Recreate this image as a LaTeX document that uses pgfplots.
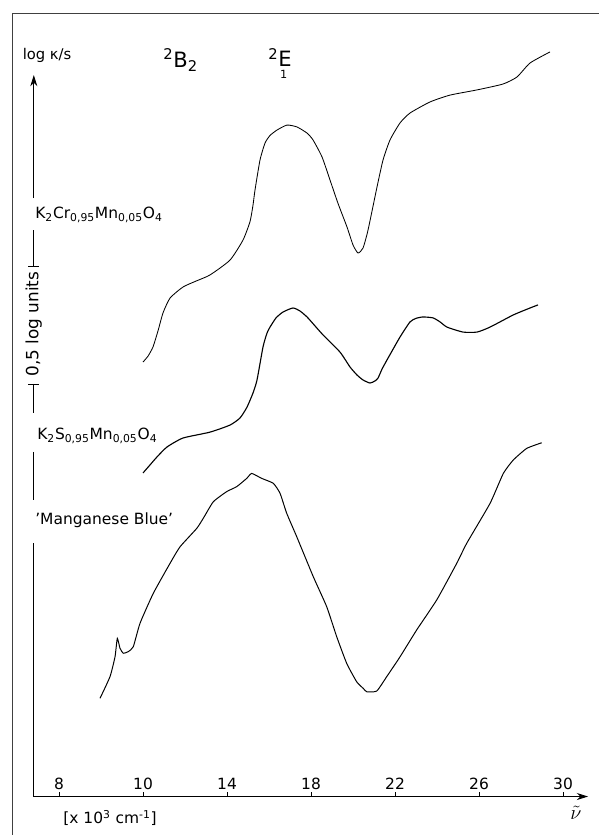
\documentclass[border=0pt]{standalone}
\usepackage{fontspec}
\setmainfont{DejaVu Sans}
\usepackage{pgfplots}
\pgfplotsset{compat=1.18}
\usetikzlibrary{arrows.meta}
\begin{document}
\begin{tikzpicture}
\begin{axis}[
  x=0.525cm, y=5.9cm,
  xmin=4.8, xmax=31.19, ymin=0, ymax=3.375,
  axis x line=bottom, axis y line=none,
  x axis line style={-{Stealth[length=8pt,width=5pt]}, line width=0.6pt},
  xtick={6,10,14,18,22,26,30},
  xticklabels={8,10,14,18,22,26,30},
  tick align=inside,
  major tick length=3pt,
  xtick style={line width=0.6pt, black},
  xticklabel style={anchor=south, yshift=1.5pt, font=\fontsize{11}{13}\selectfont},
  clip=false,
]
% K2Cr0.95Mn0.05O4
\addplot[black, line width=0.6pt, smooth, tension=0.35] coordinates {
(10.000,1.841) (10.238,1.866) (10.476,1.905) (10.714,1.973) (10.952,2.049)
(11.286,2.112) (11.905,2.159) (12.524,2.184) (13.190,2.210) (14.143,2.273)
(14.762,2.358) (15.095,2.436) (15.238,2.506) (15.333,2.570) (15.571,2.697)
(15.810,2.769) (16.048,2.801) (16.381,2.824) (16.857,2.845) (17.333,2.837)
(17.810,2.811) (18.095,2.782) (18.524,2.710) (18.905,2.612) (19.286,2.513)
(19.714,2.413) (20.000,2.337) (20.238,2.303) (20.476,2.324) (20.714,2.400)
(21.143,2.583) (21.429,2.697) (21.762,2.782) (22.238,2.854) (22.714,2.896)
(23.667,2.943) (24.619,2.972) (25.905,2.994) (27.143,3.019) (27.810,3.049)
(28.429,3.108) (29.381,3.155)
};
% K2S0.95Mn0.05O4
\addplot[black, line width=0.8pt, smooth, tension=0.35] coordinates {
(10.000,1.371) (10.333,1.405) (10.667,1.439) (11.143,1.481) (11.905,1.519)
(13.190,1.544) (14.143,1.574) (14.619,1.604) (14.952,1.650) (15.238,1.710)
(15.429,1.765) (15.714,1.905) (15.905,1.964) (16.048,1.989) (16.333,2.028)
(16.667,2.053) (17.143,2.070) (17.476,2.057) (17.810,2.032) (18.190,1.994)
(18.571,1.956) (19.381,1.883) (19.857,1.820) (20.190,1.786) (20.476,1.765)
(20.810,1.752) (21.048,1.761) (21.190,1.773) (21.381,1.811) (21.619,1.850)
(22.238,1.947) (22.714,2.011) (23.000,2.026) (23.333,2.032) (23.810,2.028)
(24.143,2.011) (24.476,1.989) (25.238,1.968) (25.905,1.968) (26.524,1.989)
(27.619,2.040) (28.429,2.070) (28.810,2.083)
};
% Manganese Blue
\addplot[black, line width=0.7pt, smooth, tension=0.3] coordinates {
(7.952,0.416) (8.429,0.508) (8.667,0.592) (8.776,0.670) (8.905,0.628)
(9.062,0.607) (9.300,0.614) (9.538,0.635) (9.857,0.734) (10.490,0.861)
(11.286,0.988) (11.762,1.058) (12.557,1.136) (12.871,1.179) (13.348,1.249)
(13.986,1.292) (14.462,1.313) (14.938,1.348) (15.176,1.369) (15.652,1.348)
(16.205,1.327) (16.524,1.285) (16.843,1.200) (17.319,1.101) (18.110,0.931)
(18.748,0.804) (19.224,0.677) (19.700,0.564) (20.176,0.486) (20.490,0.458)
(20.652,0.444) (21.129,0.447) (21.605,0.508) (22.238,0.592) (23.033,0.706)
(23.986,0.833) (24.938,0.988) (25.414,1.073) (26.524,1.242) (27.157,1.369)
(27.633,1.426) (28.271,1.475) (28.986,1.499)
};
% frame lines of the scanned figure
\draw[black!75, line width=0.45pt] (axis cs:3.762,-0.163) -- (axis cs:3.762,3.320) -- (axis cs:31.714,3.320);
% y axis pieces
\draw[line width=0.6pt, -{Stealth[length=8pt,width=5pt]}] (axis cs:4.8,2.536) -- (axis cs:4.8,3.057);
\draw[line width=0.6pt] (axis cs:4.8,2.400) -- (axis cs:4.8,2.248);
\draw[line width=0.6pt] ([xshift=-4pt]axis cs:4.8,2.248) -- ([xshift=4pt]axis cs:4.8,2.248);
\draw[line width=0.6pt] (axis cs:4.8,1.748) -- (axis cs:4.8,1.625);
\draw[line width=0.6pt] ([xshift=-4pt]axis cs:4.8,1.748) -- ([xshift=4pt]axis cs:4.8,1.748);
\draw[line width=0.6pt] (axis cs:4.8,1.460) -- (axis cs:4.8,1.257);
\draw[line width=0.6pt] (axis cs:4.8,1.074) -- (axis cs:4.8,0);
% texts
\node[inner sep=0pt, font=\fontsize{10.5}{12}\selectfont] at (axis cs:5.43,3.142) {log κ/s};
\node[inner sep=0pt, rotate=90, font=\fontsize{12}{14}\selectfont] at (axis cs:4.8,2.002) {0,5 log units};
\node[anchor=west, inner sep=0pt, font=\fontsize{11}{13}\selectfont] at (axis cs:4.857,2.464) {K\textsubscript{2}Cr\textsubscript{0,95}Mn\textsubscript{0,05}O\textsubscript{4}};
\node[anchor=west, inner sep=0pt, font=\fontsize{11}{13}\selectfont] at (axis cs:4.952,1.528) {K\textsubscript{2}S\textsubscript{0,95}Mn\textsubscript{0,05}O\textsubscript{4}};
\node[anchor=west, inner sep=0pt, font=\fontsize{11}{13}\selectfont] at (axis cs:4.857,1.172) {'Manganese Blue'};
\node[anchor=west, inner sep=0pt, font=\fontsize{15}{17}\selectfont] at (axis cs:10.952,3.121) {\textsuperscript{2}B\textsubscript{2}};
\node[anchor=west, inner sep=0pt, font=\fontsize{15}{17}\selectfont] at (axis cs:15.952,3.130) {\textsuperscript{2}E};
\node[inner sep=0pt, font=\fontsize{8}{9}\selectfont] at (axis cs:16.70,3.058) {1};
\node[inner sep=0pt, font=\fontsize{14}{16}\selectfont] at (axis cs:30.619,-0.070) {$\tilde{\nu}$};
\node[inner sep=0pt, font=\fontsize{11}{13}\selectfont] at (axis cs:8.429,-0.091) {[x 10\textsuperscript{3} cm\textsuperscript{-1}]};
\coordinate (TL) at (axis cs:3.190,3.375);
\coordinate (BR) at (axis cs:31.714,-0.163);
\end{axis}
\pgfresetboundingbox
\useasboundingbox (TL) rectangle (BR);
\end{tikzpicture}
\end{document}
